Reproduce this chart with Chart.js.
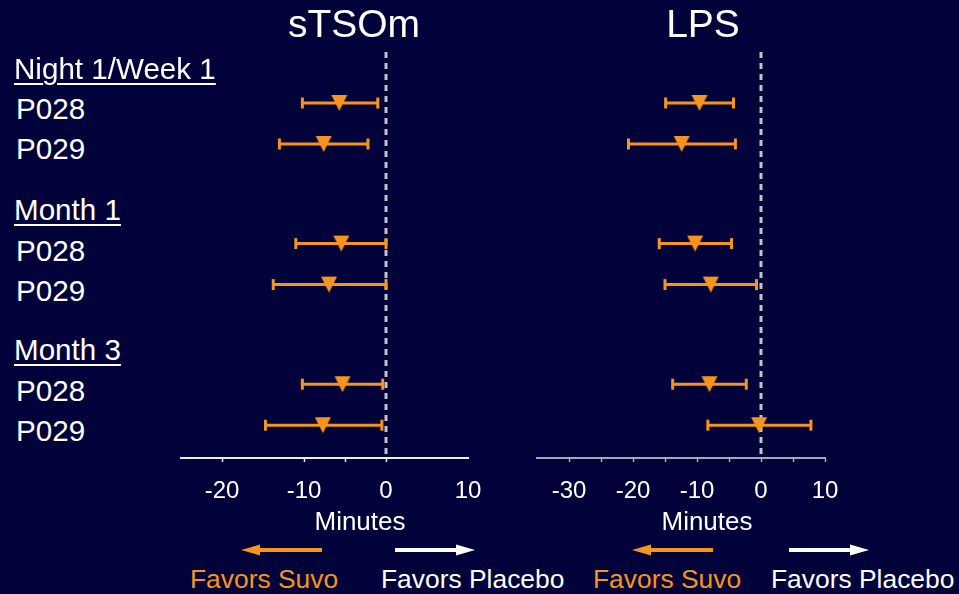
<!DOCTYPE html>
<html>
<head>
<meta charset="utf-8">
<script src="https://cdn.jsdelivr.net/npm/chart.js@4"></script>
<style>
html,body{margin:0;padding:0;background:#02023a;}
body{width:959px;height:594px;position:relative;overflow:hidden;font-family:"Liberation Sans",Arial,sans-serif;color:#fff;}
.t{position:absolute;white-space:nowrap;}
.ttl{font-size:39px;line-height:39px;transform:translateX(-50%);}
.hdr{font-size:29.6px;line-height:29px;text-decoration:underline;text-decoration-thickness:2px;text-underline-offset:4px;}
.row{font-size:29.6px;line-height:29px;}
.min{font-size:26px;line-height:26px;transform:translateX(-50%);}
.fav{font-size:26.4px;line-height:26px;}
canvas{position:absolute;}
svg{position:absolute;left:0;top:0;}
</style>
</head>
<body>
<canvas id="c1" width="347" height="466" style="left:151px;top:42px;"></canvas>
<canvas id="c2" width="348" height="466" style="left:507px;top:42px;"></canvas>
<div id="labels"></div>
<svg width="959" height="594">
  <line x1="322" y1="550" x2="256" y2="550" stroke="#f7941e" stroke-width="4"/>
  <polygon points="241,550 260,544.5 260,555.5" fill="#f7941e"/>
  <line x1="395" y1="550" x2="460" y2="550" stroke="#ffffff" stroke-width="4"/>
  <polygon points="475,550 456,544.5 456,555.5" fill="#ffffff"/>
  <line x1="713" y1="550" x2="647" y2="550" stroke="#f7941e" stroke-width="4"/>
  <polygon points="632,550 651,544.5 651,555.5" fill="#f7941e"/>
  <line x1="789" y1="550" x2="854" y2="550" stroke="#ffffff" stroke-width="4"/>
  <polygon points="869,550 850,544.5 850,555.5" fill="#ffffff"/>
</svg>
<script>
// ---- data ----
const panelTitles = ['sTSOm', 'LPS'];
const groups = ['Night 1/Week 1', 'Month 1', 'Month 3'];
const studies = ['P028', 'P029'];
const sTSOmMean = [-5.7, -7.6, -5.45, -6.95, -5.3, -7.7];
const sTSOmLow  = [-10.2, -13.0, -11.0, -13.75, -10.2, -14.7];
const sTSOmHigh = [-1.0, -2.2, 0.0, 0.0, -0.4, -0.5];
const lpsMean = [-9.6, -12.4, -10.3, -7.85, -8.05, -0.3];
const lpsLow  = [-14.9, -20.7, -15.9, -15.0, -13.8, -8.3];
const lpsHigh = [-4.3, -4.0, -4.6, -0.7, -2.3, 7.8];
const sTSOmTickLabels = [-20, -10, 0, 10];
const lpsTickLabels = [-30, -20, -10, 0, 10];
const axisLabel = 'Minutes';
const favorsLabels = ['Favors Suvo', 'Favors Placebo'];

// ---- layout ----
const ORANGE = '#f7941e';
const GROUP_STEP = 3.43;
const Y_MIN = -1.244, Y_MAX = 8.66;
const FONT = '"Liberation Sans", Arial, sans-serif';

function rowY(i) { return Math.floor(i / studies.length) * GROUP_STEP + (i % studies.length); }

// HTML text
const L = document.getElementById('labels');
function addText(cls, txt, left, top, color) {
  const d = document.createElement('div');
  d.className = 't ' + cls; d.textContent = txt;
  d.style.left = left + 'px'; d.style.top = top + 'px';
  if (color) d.style.color = color;
  L.appendChild(d);
}
addText('ttl', panelTitles[0], 354, 4);
addText('ttl', panelTitles[1], 703, 4);
const hdrTops = [54, 195, 335];
const rowTops = [94, 134, 236, 276, 376, 416];
groups.forEach((g, gi) => {
  addText('hdr', g, 14, hdrTops[gi]);
  studies.forEach((s, si) => addText('row', s, 16, rowTops[gi * studies.length + si]));
});
addText('min', axisLabel, 360, 508);
addText('min', axisLabel, 707, 508);
addText('fav', favorsLabels[0], 190, 566, ORANGE);
addText('fav', favorsLabels[1], 381, 566, '#ffffff');
addText('fav', favorsLabels[0], 593, 566, ORANGE);
addText('fav', favorsLabels[1], 771, 566, '#ffffff');

// triangle marker
const tri = document.createElement('canvas');
tri.width = 18; tri.height = 18;
(function () {
  const c = tri.getContext('2d');
  c.fillStyle = ORANGE;
  c.beginPath(); c.moveTo(1, 1); c.lineTo(17, 1); c.lineTo(9, 17); c.closePath(); c.fill();
})();

function makeChart(id, mean, low, high, min, max, labelVals, axisColor, tickMarks) {
  const datasets = [];
  datasets.push({
    data: mean.map((m, i) => ({ x: m, y: rowY(i) })),
    pointStyle: tri, pointRadius: 8, showLine: false, order: 0
  });
  low.forEach((lo, i) => {
    datasets.push({
      data: [{ x: lo, y: rowY(i) }, { x: high[i], y: rowY(i) }],
      showLine: true, borderColor: ORANGE, borderWidth: 3,
      pointStyle: 'line', pointRotation: 90, pointRadius: 5.5,
      pointBorderWidth: 3, pointBorderColor: ORANGE, order: 1
    });
  });
  datasets.push({
    data: [{ x: 0, y: Y_MIN }, { x: 0, y: Y_MAX }],
    showLine: true, borderColor: '#c4c4c4', borderWidth: 3, borderDash: [6, 5],
    pointRadius: 0, order: 2
  });
  new Chart(document.getElementById(id), {
    type: 'scatter',
    data: { datasets },
    options: {
      responsive: false, animation: false, devicePixelRatio: 1,
      layout: { padding: { left: 30, right: 30, top: 10, bottom: 0 } },
      plugins: { legend: { display: false }, tooltip: { enabled: false } },
      scales: {
        x: {
          type: 'linear', min, max,
          afterFit: s => { s.height = 50; },
          ticks: {
            stepSize: 5, autoSkip: false, maxRotation: 0, padding: 15,
            color: '#ffffff', font: { size: 24, family: FONT },
            callback: v => labelVals.includes(v) ? String(v) : ''
          },
          grid: {
            drawOnChartArea: false, drawTicks: true, tickLength: 4, tickWidth: 1.5,
            tickColor: ctx => (ctx.tick && tickMarks.includes(ctx.tick.value)) ? axisColor : 'rgba(0,0,0,0)'
          },
          border: { display: true, color: axisColor, width: 2 }
        },
        y: { type: 'linear', display: false, reverse: true, min: Y_MIN, max: Y_MAX }
      }
    }
  });
}
makeChart('c1', sTSOmMean, sTSOmLow, sTSOmHigh, -25, 10, sTSOmTickLabels, '#eeeeee', [-20, -10, -5, 0]);
makeChart('c2', lpsMean, lpsLow, lpsHigh, -35, 10, lpsTickLabels, '#a8a8b4', [-30, -25, -20, -15, -10, -5, 0, 5, 10]);
</script>
</body>
</html>
